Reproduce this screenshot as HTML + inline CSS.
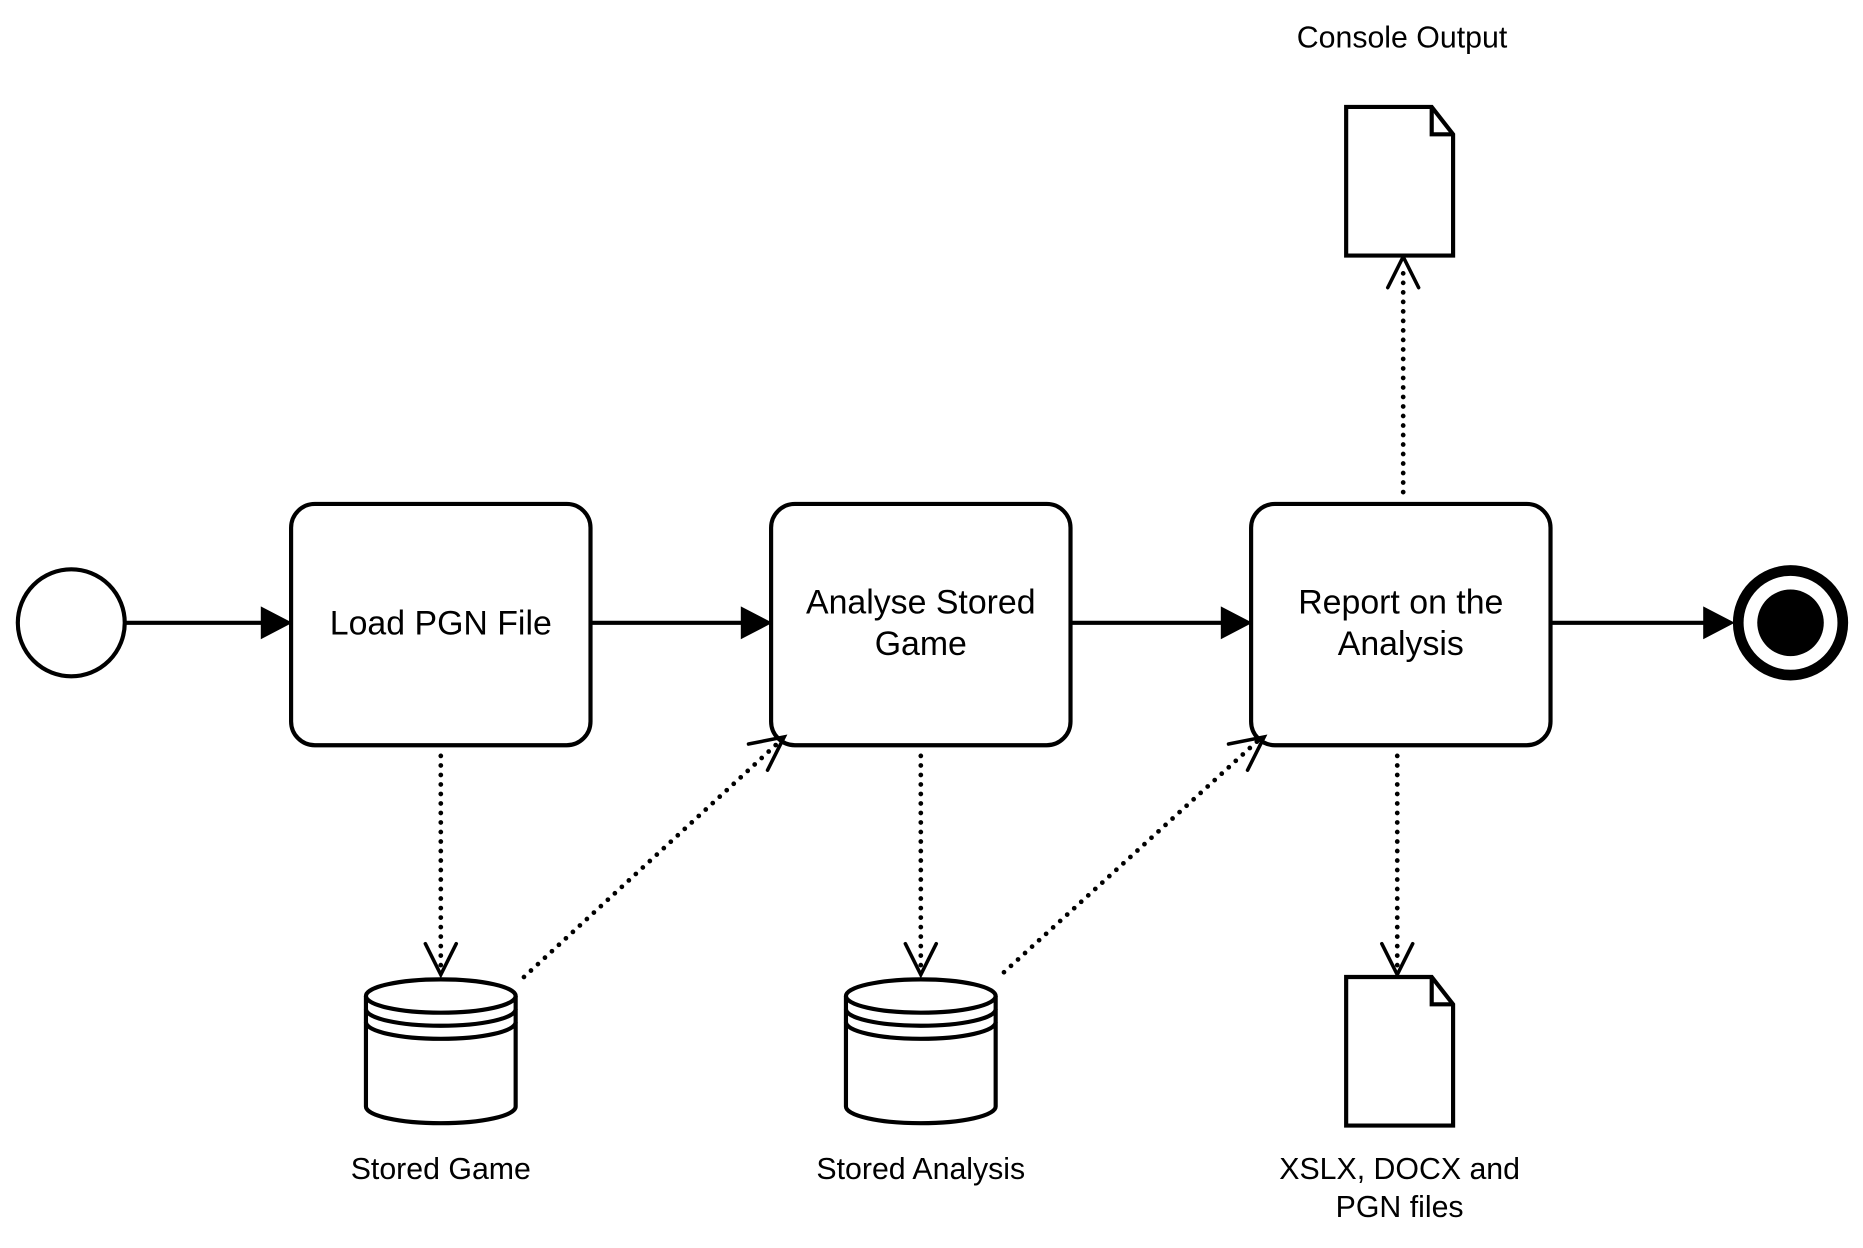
<!DOCTYPE html>
<html><head><meta charset="utf-8"><style>
html,body{margin:0;padding:0;background:#fff;}
svg{display:block;}
text{font-family:"Liberation Sans",Arial,sans-serif;fill:#000;}
</style></head><body>
<svg width="1863" height="1248" viewBox="0 0 1568 1050" preserveAspectRatio="none" xmlns="http://www.w3.org/2000/svg">
<g fill="none" stroke="#000" stroke-width="3.5">
<circle cx="60" cy="524" r="45" fill="#fff"/>
<circle cx="1507" cy="524" r="44" stroke-width="9" fill="#fff"/>
<circle cx="1507" cy="524" r="28" fill="#000" stroke="none"/>
<rect x="245" y="424" width="252" height="203" rx="20" fill="#fff"/>
<rect x="649" y="424" width="252" height="203" rx="20" fill="#fff"/>
<rect x="1053" y="424" width="252" height="203" rx="20" fill="#fff"/>
<line x1="105" y1="524" x2="222" y2="524"/>
<line x1="497" y1="524" x2="626" y2="524"/>
<line x1="901" y1="524" x2="1030" y2="524"/>
<line x1="1305" y1="524" x2="1436" y2="524"/>
</g>
<g fill="#000" stroke="#000" stroke-width="1">
<polygon points="245,524 220,511 220,537"/>
<polygon points="649,524 624,511 624,537"/>
<polygon points="1053,524 1028,511 1028,537"/>
<polygon points="1459,524 1434,511 1434,537"/>
</g>
<g fill="none" stroke="#000" stroke-width="4" stroke-linecap="round" stroke-dasharray="0 8">
<line x1="371" y1="636" x2="371" y2="816"/>
<line x1="775" y1="636" x2="775" y2="816"/>
<line x1="1176" y1="636" x2="1176" y2="816"/>
<line x1="1181" y1="414" x2="1181" y2="222"/>
<line x1="441" y1="822" x2="656" y2="624"/>
<line x1="845" y1="818" x2="1060" y2="622"/>
</g>
<g fill="none" stroke="#000" stroke-width="3" stroke-linecap="round">
<polyline points="358,794 371,820 384,794"/>
<polyline points="762,794 775,820 788,794"/>
<polyline points="1163,794 1176,820 1189,794"/>
<polyline points="1168,242 1181,216 1194,242"/>
<polyline points="630,626 660,620 646,648"/>
<polyline points="1034,626 1064,620 1050,648"/>
</g>
<g fill="#fff" stroke="#000" stroke-width="3.5">
<path d="M308,838 A63,14 0 0 1 434,838 L434,931 A63,14 0 0 1 308,931 Z"/>
<path d="M308,838 A63,14 0 0 0 434,838" fill="none"/>
<path d="M308,849 A63,14 0 0 0 434,849" fill="none"/>
<path d="M308,860 A63,14 0 0 0 434,860" fill="none"/>
<path d="M712,838 A63,14 0 0 1 838,838 L838,931 A63,14 0 0 1 712,931 Z"/>
<path d="M712,838 A63,14 0 0 0 838,838" fill="none"/>
<path d="M712,849 A63,14 0 0 0 838,849" fill="none"/>
<path d="M712,860 A63,14 0 0 0 838,860" fill="none"/>
<path d="M1133,90 L1205,90 L1223,113 L1223,215 L1133,215 Z"/>
<path d="M1205,90 L1205,113 L1223,113" fill="none"/>
<path d="M1133,822 L1205,822 L1223,845 L1223,947 L1133,947 Z"/>
<path d="M1205,822 L1205,845 L1223,845" fill="none"/>
</g>
<g font-size="28.5" text-anchor="middle">
<text x="371" y="534">Load PGN File</text>
<text x="775" y="516">Analyse Stored</text>
<text x="775" y="551">Game</text>
<text x="1179" y="516">Report on the</text>
<text x="1179" y="551">Analysis</text>
</g>
<g font-size="25.5" text-anchor="middle">
<text x="1180" y="40">Console Output</text>
<text x="371" y="992">Stored Game</text>
<text x="775" y="992">Stored Analysis</text>
<text x="1178" y="992">XSLX, DOCX and</text>
<text x="1178" y="1024">PGN files</text>
</g>
</svg>
</body></html>
